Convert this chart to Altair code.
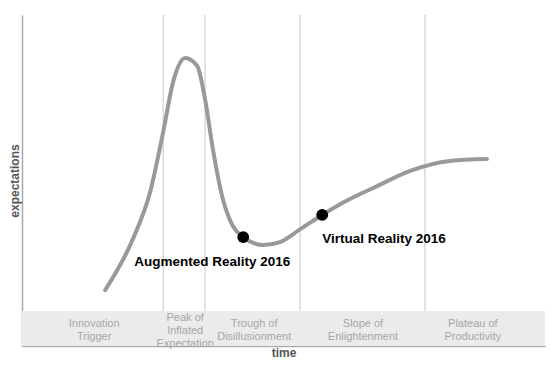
import altair as alt
import pandas as pd

# Hype-cycle curve (time, expectations)
curve_t = [15.9, 21.2, 24.5, 27.0, 28.9, 31.2, 33.5, 35.0, 36.5, 38.4, 40.3, 42.3,
           46.1, 49.3, 53.2, 57.4, 61.6, 67.9, 74.2, 81.8, 88.9]
curve_e = [16.9, 32.3, 46.5, 64.7, 79.8, 87.0, 84.6, 74.6, 59.5, 44.4, 36.3, 32.9,
           30.5, 31.4, 35.3, 39.6, 43.5, 48.3, 52.9, 55.9, 56.5]

# Highlighted technologies
tech_names = ["Augmented Reality 2016", "Virtual Reality 2016"]
tech_t = [42.3, 57.4]
tech_e = [32.9, 39.6]

# Phase boundaries and labels
phase_bounds = [27.0, 35.0, 53.15, 77.05]
phase_names = ["Innovation\nTrigger", "Peak of\nInflated\nExpectation",
               "Trough of\nDisillusionment", "Slope of\nEnlightenment",
               "Plateau of\nProductivity"]
phase_centers = [13.8, 31.2, 44.4, 65.2, 86.2]
band_top = 10.6

FONT = "Liberation Sans"
PLOT_W, PLOT_H = 523, 331
LINE_H = 13
unit_per_px = 100.0 / PLOT_H

curve_df = pd.DataFrame({"t": curve_t, "e": curve_e})
tech_df = pd.DataFrame({"name": tech_names, "t": tech_t, "e": tech_e})
bounds_df = pd.DataFrame({"t": phase_bounds, "lo": [band_top] * len(phase_bounds),
                          "hi": [100] * len(phase_bounds)})
n_lines = [s.count("\n") + 1 for s in phase_names]
phase_df = pd.DataFrame({
    "name": phase_names, "t": phase_centers,
    "e": [band_top / 2 + n * LINE_H / 2 * unit_per_px for n in n_lines],
})
band_df = pd.DataFrame({"t0": [0], "t1": [100], "e0": [0], "e1": [band_top]})

xs = alt.Scale(domain=[0, 100], nice=False, zero=False)
ys = alt.Scale(domain=[0, 100], nice=False, zero=False)

xaxis = alt.Axis(title="time", labels=False, ticks=False, grid=False, domainColor="#aaaaaa",
                 domainWidth=1.5, titleFont=FONT, titleFontSize=12, titleFontWeight="bold",
                 titleColor="#555555", titlePadding=1)
yaxis = alt.Axis(title="expectations", labels=False, ticks=False, grid=False, domainColor="#aaaaaa",
                 domainWidth=1.5, titleFont=FONT, titleFontSize=12, titleFontWeight="bold",
                 titleColor="#555555", titlePadding=1)

band = alt.Chart(band_df).mark_rect(color="#ebebeb").encode(
    x=alt.X("t0:Q", scale=xs, axis=xaxis), x2="t1:Q",
    y=alt.Y("e0:Q", scale=ys, axis=yaxis), y2="e1:Q",
)

rules = alt.Chart(bounds_df).mark_rule(color="#d0d0d0", strokeWidth=1.2).encode(
    x=alt.X("t:Q", scale=xs), y=alt.Y("lo:Q", scale=ys), y2="hi:Q"
)

phases = alt.Chart(phase_df).mark_text(
    lineBreak="\n", font=FONT, fontSize=11, color="#a6a6a6", align="center",
    baseline="top", lineHeight=LINE_H, dy=3
).encode(x=alt.X("t:Q", scale=xs), y=alt.Y("e:Q", scale=ys), text="name:N")

line = alt.Chart(curve_df).mark_line(color="#999999", strokeWidth=4, interpolate="monotone",
                                     strokeCap="round").encode(
    x=alt.X("t:Q", scale=xs), y=alt.Y("e:Q", scale=ys), order="t:Q"
)

dots = alt.Chart(tech_df).mark_circle(color="black", size=140, opacity=1).encode(
    x=alt.X("t:Q", scale=xs), y=alt.Y("e:Q", scale=ys)
)

lab_ar = alt.Chart(tech_df).transform_filter(alt.datum.name == tech_names[0]).mark_text(
    font=FONT, fontSize=13.5, fontWeight="bold", color="black", align="center",
    baseline="alphabetic", dx=-31, dy=29
).encode(x=alt.X("t:Q", scale=xs), y=alt.Y("e:Q", scale=ys), text="name:N")

lab_vr = alt.Chart(tech_df).transform_filter(alt.datum.name == tech_names[1]).mark_text(
    font=FONT, fontSize=13.5, fontWeight="bold", color="black", align="left",
    baseline="alphabetic", dx=0, dy=28
).encode(x=alt.X("t:Q", scale=xs), y=alt.Y("e:Q", scale=ys), text="name:N")

chart = alt.layer(band, rules, phases, line, dots, lab_ar, lab_vr).properties(
    width=PLOT_W, height=PLOT_H,
    autosize=alt.AutoSizeParams(type="none"),
    padding={"left": 14, "top": 7, "right": 4, "bottom": 13},
).configure_view(stroke=None)

chart.save("out.html", embed_options={"renderer": "svg", "actions": False})
